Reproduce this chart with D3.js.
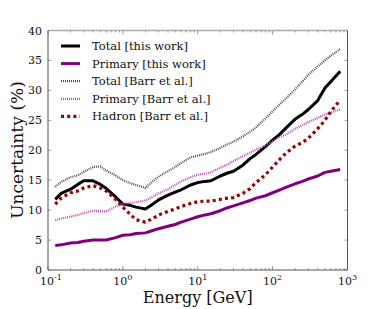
<!DOCTYPE html>
<html><head><meta charset="utf-8">
<script src="https://cdn.jsdelivr.net/npm/d3@7/dist/d3.min.js"></script>
<style>body{margin:0;background:#fff}svg{display:block}</style>
</head><body>
<svg id="c" width="386" height="309"></svg>
<script>
const energy = [0.125,0.15,0.2,0.25,0.3,0.4,0.5,0.6,0.8,1,1.25,1.5,2,2.5,3,4,5,6,8,10,12.5,15,20,25,30,40,50,60,80,100,125,150,200,250,300,400,500,600,800];
const totalThis = [11.8,12.8,13.5,14.3,14.9,14.9,14.3,13.6,12.2,11.0,10.8,10.5,10.2,11.0,11.7,12.5,13.0,13.4,14.2,14.6,14.8,14.9,15.7,16.2,16.5,17.5,18.6,19.3,20.6,21.7,22.7,23.7,25.2,26.0,26.8,28.3,30.4,31.5,33.2];
const primaryThis = [4.1,4.2,4.5,4.6,4.8,5.0,5.0,5.0,5.4,5.8,5.9,6.1,6.2,6.6,6.9,7.3,7.6,8.0,8.5,8.9,9.2,9.4,9.9,10.4,10.7,11.2,11.6,12.0,12.4,12.9,13.4,13.8,14.4,14.8,15.2,15.7,16.3,16.5,16.8];
const totalBarr = [13.9,14.7,15.5,15.8,16.4,17.2,17.3,16.6,15.8,15.0,14.5,14.2,13.7,14.8,15.6,16.5,17.2,17.9,18.8,19.1,19.4,19.7,20.4,21.0,21.4,22.3,23.1,23.8,25.3,26.5,27.7,28.6,30.2,31.5,32.6,34.0,35.0,35.8,36.9];
const primaryBarr = [8.3,8.6,8.9,9.2,9.5,9.9,9.8,9.8,10.6,11.0,11.2,11.3,11.6,12.2,12.8,13.5,14.2,14.8,15.5,15.9,16.1,16.3,17.1,17.6,18.2,19.0,19.6,20.1,20.8,21.5,22.2,22.6,23.6,24.2,24.7,25.4,26.0,26.3,26.8];
const hadronBarr = [11.0,12.0,12.9,13.2,13.7,14.1,13.7,13.2,11.8,10.5,9.3,8.4,8.0,8.6,9.2,9.8,10.2,10.6,11.1,11.4,11.5,11.5,11.8,12.0,12.1,12.8,13.6,14.6,15.9,17.2,18.5,19.5,20.7,21.3,22.0,23.6,25.0,26.5,28.4];
const seriesNames = ["Total [this work]","Primary [this work]","Total [Barr et al.]","Primary [Barr et al.]","Hadron [Barr et al.]"];
const yTicks = [0,5,10,15,20,25,30,35,40];
const xTicks = [0.1,1,10,100,1000];
const xTickExp = ["-1","0","1","2","3"];

const series = [
  {name: seriesNames[0], values: totalThis, color:"#000000", width:3, dash:null},
  {name: seriesNames[1], values: primaryThis, color:"#800080", width:3, dash:null},
  {name: seriesNames[2], values: totalBarr, color:"#555555", width:2.2, dash:"1,1"},
  {name: seriesNames[3], values: primaryBarr, color:"#c050c0", width:2.2, dash:"1,1"},
  {name: seriesNames[4], values: hadronBarr, color:"#990000", width:3.2, dash:"3,3.2"}
];

const svg = d3.select("#c");
const L=48, R=347.5, T=30.5, B=270;
const x = d3.scaleLog().domain([0.1,1000]).range([L,R]);
const y = d3.scaleLinear().domain([0,40]).range([B,T]);
const font = "DejaVu Serif, serif";

// minor ticks
const minor = [];
for (let d=-1; d<3; d++) for (let k=2;k<=9;k++) minor.push(k*Math.pow(10,d));
const g = svg.append("g");
g.selectAll(".mb").data(minor).enter().append("line")
  .attr("x1",d=>x(d)).attr("x2",d=>x(d)).attr("y1",B).attr("y2",B-2)
  .attr("stroke","#999").attr("stroke-width",1);
g.selectAll(".mt").data(minor).enter().append("line")
  .attr("x1",d=>x(d)).attr("x2",d=>x(d)).attr("y1",T).attr("y2",T+2)
  .attr("stroke","#999").attr("stroke-width",1);
g.selectAll(".Mb").data(xTicks).enter().append("line")
  .attr("x1",d=>x(d)).attr("x2",d=>x(d)).attr("y1",B).attr("y2",B-4)
  .attr("stroke","#999");
g.selectAll(".Mt").data(xTicks).enter().append("line")
  .attr("x1",d=>x(d)).attr("x2",d=>x(d)).attr("y1",T).attr("y2",T+4)
  .attr("stroke","#999");
g.selectAll(".yl").data(yTicks).enter().append("line")
  .attr("x1",L).attr("x2",L+3).attr("y1",d=>y(d)).attr("y2",d=>y(d)).attr("stroke","#999");
g.selectAll(".yr").data(yTicks).enter().append("line")
  .attr("x1",R).attr("x2",R-3).attr("y1",d=>y(d)).attr("y2",d=>y(d)).attr("stroke","#999");

// lines
const line = d3.line().x((d,i)=>x(energy[i])).y(d=>y(d)).curve(d3.curveLinear);
series.forEach(s=>{
  const p = svg.append("path").attr("d",line(s.values)).attr("fill","none")
    .attr("stroke",s.color).attr("stroke-width",s.width).attr("stroke-linejoin","round");
  if (s.dash) p.attr("stroke-dasharray",s.dash);
});

// frame
svg.append("line").attr("x1",L).attr("x2",R).attr("y1",T).attr("y2",T).attr("stroke","#aaa").attr("stroke-width",1.5);
svg.append("line").attr("x1",L).attr("x2",L).attr("y1",T).attr("y2",B).attr("stroke","#555").attr("stroke-width",1);
svg.append("line").attr("x1",R).attr("x2",R).attr("y1",T).attr("y2",B).attr("stroke","#555").attr("stroke-width",1);
svg.append("line").attr("x1",L).attr("x2",R).attr("y1",B).attr("y2",B).attr("stroke","#555").attr("stroke-width",1);

// y tick labels
svg.selectAll(".ytl").data(yTicks).enter().append("text")
  .attr("x",L-6).attr("y",d=>y(d)+4).attr("text-anchor","end")
  .attr("font-family",font).attr("font-size",11).attr("fill","#111").text(d=>d);
// x tick labels
const xt = svg.selectAll(".xtl").data(xTicks).enter().append("text")
  .attr("x",(d,i)=>x(d)+(i===0?3:0)).attr("y",B+15).attr("text-anchor","middle")
  .attr("font-family",font).attr("font-size",11).attr("fill","#111");
xt.append("tspan").text("10");
xt.append("tspan").attr("dy",-5).attr("font-size",8).text((d,i)=>xTickExp[i]);

// axis labels
svg.append("text").attr("x",(L+R)/2).attr("y",303).attr("text-anchor","middle")
  .attr("font-family",font).attr("font-size",16).attr("fill","#111").text("Energy [GeV]");
svg.append("text").attr("transform",`translate(23,150) rotate(-90)`).attr("text-anchor","middle")
  .attr("font-family",font).attr("font-size",17).attr("fill","#111").text("Uncertainty (%)");

// legend
const lg = svg.append("g");
series.forEach((s,i)=>{
  const yy = 46 + i*17.6;
  const p = lg.append("line").attr("x1",61).attr("x2",80).attr("y1",yy).attr("y2",yy)
    .attr("stroke",s.color).attr("stroke-width",s.width);
  if (s.dash) p.attr("stroke-dasharray",s.dash);
  lg.append("text").attr("x",92).attr("y",yy+4).attr("font-family",font).attr("font-size",11.5)
    .attr("fill","#111").text(s.name);
});
</script>
</body></html>
